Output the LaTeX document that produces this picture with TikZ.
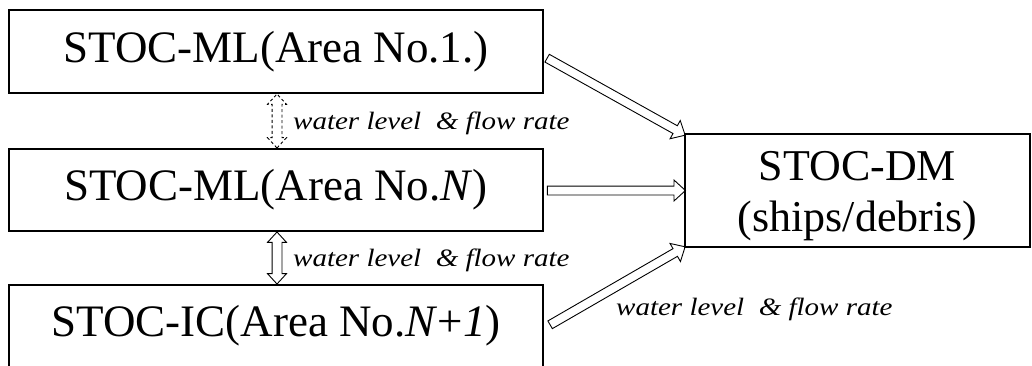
\documentclass[tikz,border=0pt]{standalone}
\usepackage{fontspec}
\setmainfont{Liberation Serif}
\usetikzlibrary{shapes.arrows,calc}
\tikzset{
  box/.style={draw, line width=1.1pt, inner sep=0pt, outer sep=0pt, align=center,
    font=\fontsize{45}{45}\selectfont},
  dmbox/.style={box, font=\fontsize{44}{51}\selectfont},
  lbl/.style={inner sep=0pt, anchor=west},
  hollowarrow/.style={draw, line width=0.9pt, single arrow, inner xsep=0pt, inner ysep=4pt,
    single arrow head extend=6pt, single arrow tip angle=85, outer sep=0pt},
  twowayarrow/.style={draw, line width=0.9pt, double arrow, inner xsep=0pt, inner ysep=4.5pt,
    double arrow head extend=4.5pt, double arrow tip angle=85, outer sep=0pt},
}
\newcommand{\lbltext}{\scalebox{1.16}[1]{\fontsize{25}{30}\selectfont\itshape water level~ \& flow rate}}
\begin{document}
\begin{tikzpicture}[x=1pt,y=-1pt]
\useasboundingbox (0,0) rectangle (1032,365);
\clip (0,0) rectangle (1032,365);
\fill[white] (0,0) rectangle (1032,365);

\node[box, minimum width=534pt, minimum height=83pt] (b1) at (276,51.5) {STOC-ML(Area No.1.)};
\node[box, minimum width=534pt, minimum height=82pt] (b2) at (276,190) {STOC-ML(Area No.\textit{N})};
\node[box, minimum width=534pt, minimum height=82pt] (b3) at (276,326) {STOC-IC(Area No.\textit{N}+\textit{1})};
\node[dmbox, minimum width=345pt, minimum height=113pt] (dm) at (857.5,190.5) {\rule{0pt}{41pt}STOC-DM\\(ships/debris)};

% vertical two-way arrows
\coordinate (v1s) at ($(b1.south)+(1,1)$);
\coordinate (v1e) at ($(b2.north)+(1,-1)$);
\coordinate (v2s) at ($(b2.south)+(1,1)$);
\coordinate (v2e) at ($(b3.north)+(1,-1)$);
\path let \p1=($(v1e)-(v1s)$), \n1={veclen(\x1,\y1)} in
  (v1s) -- (v1e) node[midway, sloped, twowayarrow, dash pattern=on 3pt off 2.5pt, minimum height=\n1] (d1) {};
\path let \p1=($(v2e)-(v2s)$), \n1={veclen(\x1,\y1)} in
  (v2s) -- (v2e) node[midway, sloped, twowayarrow, minimum height=\n1] (d2) {};

% arrows to STOC-DM
\coordinate (a1s) at ($(b1.east)+(2,5.5)$);
\coordinate (a1e) at ($(dm.north west)+(-2,0)$);
\coordinate (a2s) at ($(b2.east)+(2,0.5)$);
\coordinate (a2e) at ($(dm.west)+(-2,0)$);
\coordinate (a3s) at ($(b3.east)+(5,0)$);
\coordinate (a3e) at ($(dm.south west)+(-2,1)$);
\path let \p1=($(a1e)-(a1s)$), \n1={veclen(\x1,\y1)} in
  (a1s) -- (a1e) node[midway, sloped, hollowarrow, minimum height=\n1] (h1) {};
\path let \p1=($(a2e)-(a2s)$), \n1={veclen(\x1,\y1)} in
  (a2s) -- (a2e) node[midway, sloped, hollowarrow, minimum height=\n1] (h2) {};
\path let \p1=($(a3e)-(a3s)$), \n1={veclen(\x1,\y1)} in
  (a3s) -- (a3e) node[midway, sloped, hollowarrow, minimum height=\n1] (h3) {};

% labels
\node[lbl] (l1) at (293,123) {\lbltext};
\node[lbl] (l2) at (293,260) {\lbltext};
\node[lbl] (l3) at (616,309) {\lbltext};
\end{tikzpicture}
\end{document}
